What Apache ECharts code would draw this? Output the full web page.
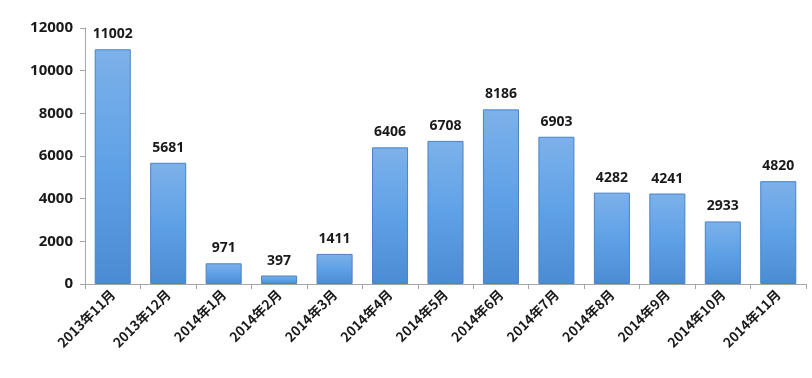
<!DOCTYPE html>
<html>
<head>
<meta charset="utf-8">
<script src="https://cdn.jsdelivr.net/npm/echarts@6/dist/echarts.min.js"></script>
<style>
  html, body { margin: 0; padding: 0; background: #fff; }
  #chart { width: 812px; height: 378px; }
</style>
</head>
<body>
<div id="chart"></div>
<script>
// 月份与数值
const months = ['2013年11月', '2013年12月', '2014年1月', '2014年2月', '2014年3月', '2014年4月',
    '2014年5月', '2014年6月', '2014年7月', '2014年8月', '2014年9月', '2014年10月', '2014年11月'];
const values = [11002, 5681, 971, 397, 1411, 6406, 6708, 8186, 6903, 4282, 4241, 2933, 4820];
const yTicks = [0, 2000, 4000, 6000, 8000, 10000, 12000];

const chart = echarts.init(document.getElementById('chart'));

const option = {
    animation: false,
    grid: { left: 85, right: 6, top: 28, bottom: 94 },
    xAxis: {
        type: 'category',
        data: months,
        axisLine: { lineStyle: { color: '#a6a6a6', width: 1 } },
        axisTick: { show: true, alignWithLabel: false, length: 5, lineStyle: { color: '#a6a6a6' } },
        axisLabel: {
            rotate: 45,
            interval: 0,
            margin: 8,
            color: '#1a1a1a',
            fontWeight: 'bold',
            fontSize: 13.5,
            fontFamily: '"Noto Sans CJK SC", "DejaVu Sans", sans-serif'
        }
    },
    yAxis: {
        type: 'value',
        min: yTicks[0],
        max: yTicks[yTicks.length - 1],
        interval: 2000,
        splitLine: { show: false },
        axisLine: { show: true, lineStyle: { color: '#a6a6a6' } },
        axisTick: { show: true, length: 5, lineStyle: { color: '#a6a6a6' } },
        axisLabel: {
            margin: 12,
            color: '#1a1a1a',
            fontWeight: 'bold',
            fontSize: 15,
            fontFamily: '"Open Sans", "Liberation Sans", sans-serif',
            formatter: function(v) { return String(v); }
        }
    },
    series: [{
        type: 'bar',
        data: values,
        barWidth: '65%',
        itemStyle: {
            color: new echarts.graphic.LinearGradient(0, 0, 0, 1, [
                { offset: 0, color: '#7db1ea' },
                { offset: 0.5, color: '#5fa1e6' },
                { offset: 1, color: '#4b8bd3' }
            ]),
            borderColor: '#4a82c4',
            borderWidth: 1
        },
        label: {
            show: true,
            position: 'top',
            distance: 8,
            color: '#1a1a1a',
            fontWeight: 'bold',
            fontSize: 14,
            fontFamily: '"Open Sans", "Liberation Sans", sans-serif'
        }
    }]
};

chart.setOption(option);
window.addEventListener('resize', function() { chart.resize(); });
</script>
</body>
</html>
